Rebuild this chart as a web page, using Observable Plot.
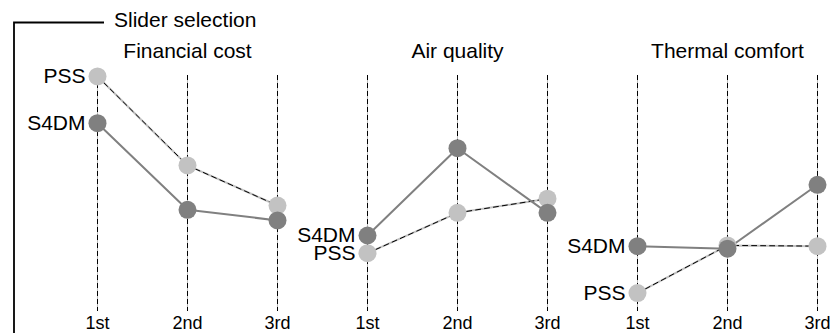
<!DOCTYPE html>
<html>
<head>
<meta charset="utf-8">
<script src="https://cdn.jsdelivr.net/npm/d3@7"></script>
<script src="https://cdn.jsdelivr.net/npm/@observablehq/plot@0.6"></script>
<style>
  html, body { margin: 0; padding: 0; background: #fff; }
  #chart { width: 833px; height: 333px; overflow: hidden; }
</style>
</head>
<body>
<div id="chart"></div>
<script>
const panels = ["Financial cost", "Air quality", "Thermal comfort"];
const ranks = ["1st", "2nd", "3rd"];
const seriesNames = ["PSS", "S4DM"];
const pssValues = [
  [99.6, 61.9, 44.9],
  [24.7, 41.8, 47.8],
  [7.8, 28.0, 27.7]
];
const s4dmValues = [
  [79.8, 43.1, 38.6],
  [32.2, 69.2, 41.8],
  [27.7, 26.6, 53.7]
];
const headerLabel = "Slider selection";

const FONT = "'Liberation Sans', Arial, Helvetica, sans-serif";
const PSS_COLOR = "#c2c2c2";
const S4DM_COLOR = "#808080";

const keys = [];
const data = [];
panels.forEach((p, i) => {
  ranks.forEach((r, j) => {
    const key = p + "|" + r;
    keys.push(key);
    data.push({panel: p, rank: r, key, series: "PSS", value: pssValues[i][j]});
    data.push({panel: p, rank: r, key, series: "S4DM", value: s4dmValues[i][j]});
  });
});
const pss = data.filter(d => d.series === "PSS");
const s4dm = data.filter(d => d.series === "S4DM");
const titles = panels.map(p => ({panel: p, key: p + "|" + ranks[1]}));
const firsts = data.filter(d => d.rank === ranks[0]);

const chart = Plot.plot({
  width: 833,
  height: 333,
  marginLeft: 95.7,
  marginRight: 15.3,
  marginTop: 75,
  marginBottom: 22,
  style: {fontFamily: FONT, background: "#fff", color: "#000"},
  x: {type: "point", domain: keys, padding: 0, label: null},
  y: {domain: [0, 100], axis: null},
  marks: [
    Plot.ruleX(keys, {x: d => d, stroke: "#bdbdbd", strokeWidth: 1}),
    Plot.ruleX(keys, {x: d => d, stroke: "#000", strokeWidth: 1, strokeDasharray: "5,3"}),
    Plot.axisX({
      label: null,
      tickSize: 0,
      tickPadding: 5,
      fontSize: 18,
      tickFormat: d => d.split("|")[1]
    }),
    Plot.line(pss, {x: "key", y: "value", z: "panel", stroke: PSS_COLOR, strokeWidth: 2}),
    Plot.line(pss, {x: "key", y: "value", z: "panel", stroke: "#000", strokeWidth: 1, strokeDasharray: "5,4"}),
    Plot.line(s4dm, {x: "key", y: "value", z: "panel", stroke: S4DM_COLOR, strokeWidth: 2}),
    Plot.dot(pss, {x: "key", y: "value", r: 9, fill: PSS_COLOR, stroke: "none"}),
    Plot.dot(s4dm, {x: "key", y: "value", r: 9, fill: S4DM_COLOR, stroke: "none"}),
    Plot.text(firsts, {
      x: "key", y: "value", text: "series",
      textAnchor: "end", dx: -12, fontSize: 21, lineAnchor: "middle", fill: "#000"
    }),
    Plot.text(titles, {
      x: "key", frameAnchor: "top", text: "panel",
      textAnchor: "middle", lineAnchor: "bottom", dy: -17.5, fontSize: 21, fill: "#000"
    })
  ]
});

const svg = d3.select(chart);
svg.append("path")
  .attr("d", "M104,22.5H14V333")
  .attr("fill", "none")
  .attr("stroke", "#000")
  .attr("stroke-width", 1.8);
svg.append("text")
  .attr("x", 114)
  .attr("y", 27)
  .attr("text-anchor", "start")
  .style("font-size", "21px")
  .style("font-family", FONT)
  .attr("fill", "#000")
  .text(headerLabel);

document.getElementById("chart").appendChild(chart);
</script>
</body>
</html>
